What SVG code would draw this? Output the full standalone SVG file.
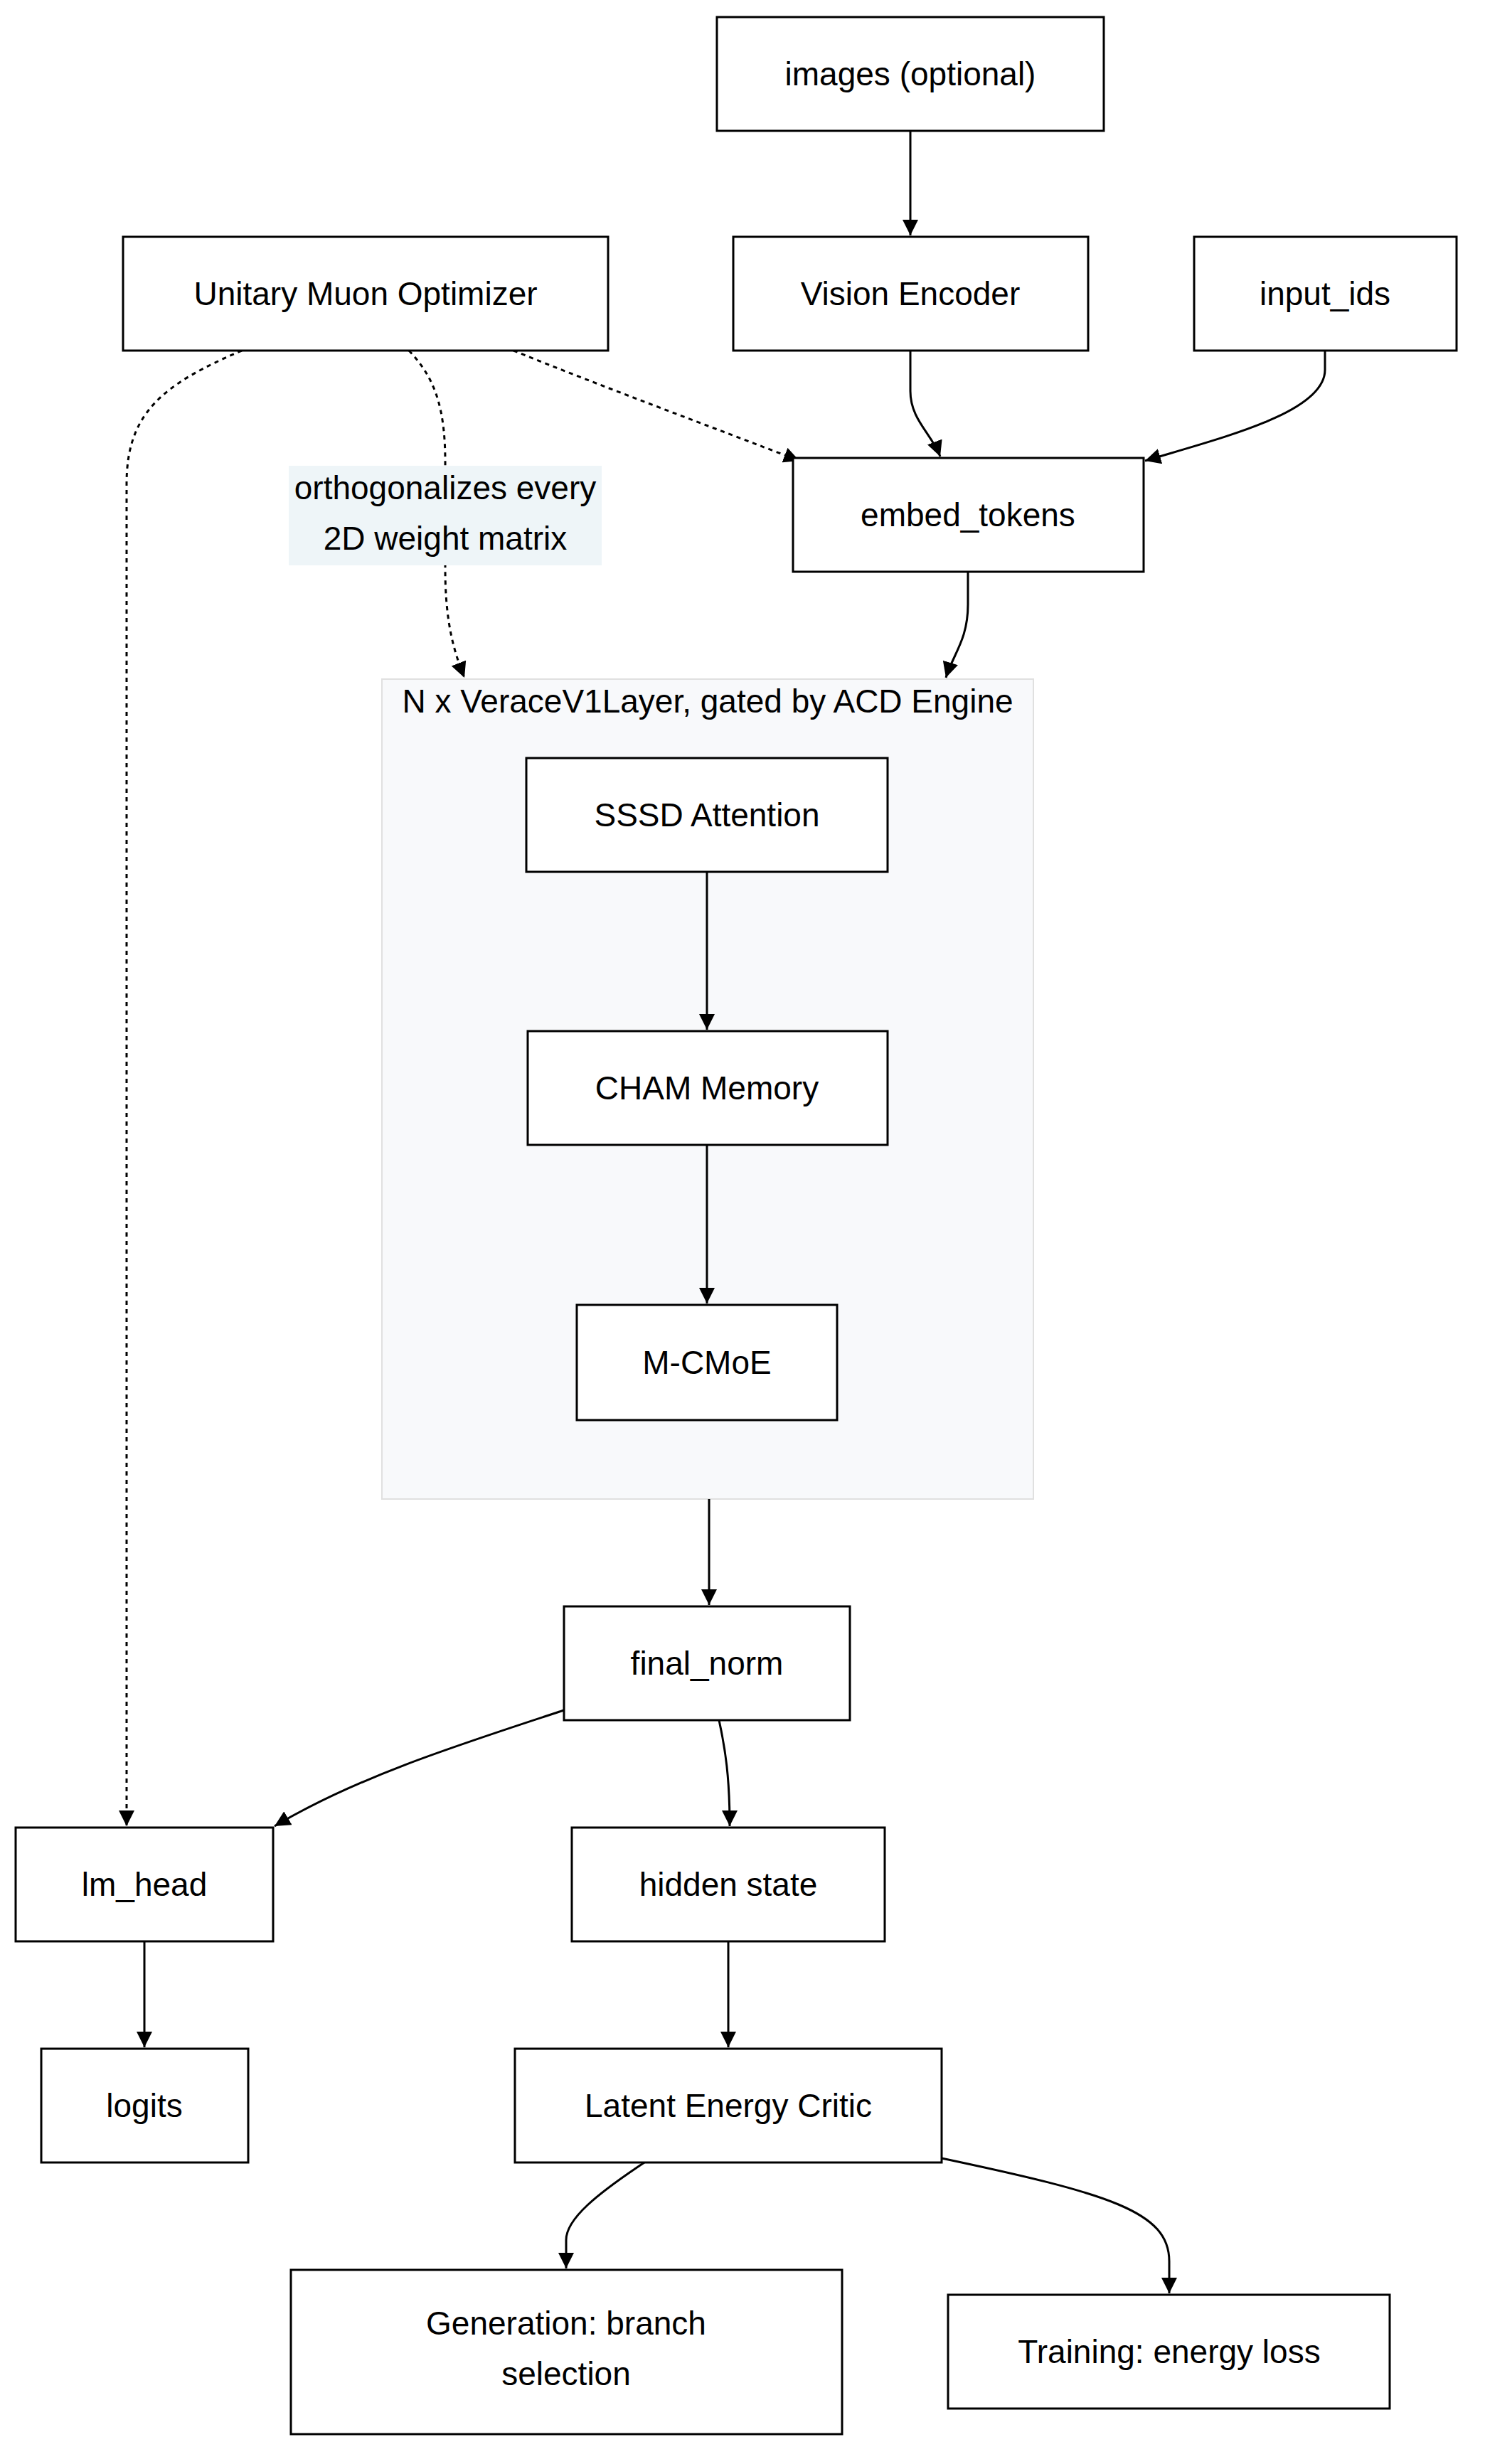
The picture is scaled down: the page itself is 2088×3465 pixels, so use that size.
<svg xmlns="http://www.w3.org/2000/svg" width="2088" height="3465" viewBox="0 0 2088 3465">
<style>
.n rect{fill:#fff;stroke:#000;stroke-width:3}
text{font-family:"Liberation Sans",Arial,sans-serif;font-size:46px;fill:#000;text-anchor:middle;dominant-baseline:central}
.e{fill:none;stroke:#000;stroke-width:3}
.d{stroke-dasharray:6 6}
</style>
<defs>
<marker id="a" viewBox="0 0 10 10" refX="10" refY="5" markerWidth="22" markerHeight="22" markerUnits="userSpaceOnUse" orient="auto"><path d="M0,0L10,5L0,10z" fill="#000"/></marker>
</defs>
<rect width="2088" height="3465" fill="#fff"/>
<g id="cluster"><rect x="537" y="955" width="916" height="1153" fill="#f8f9fb" stroke="#e0e0e0" stroke-width="2"/><text x="995" y="986">N x VeraceV1Layer, gated by ACD Engine</text></g>
<g id="edges">
<path class="e" d="M1280,184V331" marker-end="url(#a)"/>
<path class="e" d="M1280,493V550C1280,590 1310,610 1322,642" marker-end="url(#a)"/>
<path class="e" d="M1863,493V520C1863,580 1720,615 1610,648" marker-end="url(#a)"/>
<path class="e d" d="M722,493C850,545 1000,600 1124,648" marker-end="url(#a)"/>
<path class="e d" d="M575,493C610,530 626,570 626,650V800C626,880 640,920 653,953" marker-end="url(#a)"/>
<path class="e d" d="M340,493C230,540 178,580 178,680V2568" marker-end="url(#a)"/>
<path class="e" d="M1361,804V850C1361,900 1340,920 1330,953" marker-end="url(#a)"/>
<path class="e" d="M994,1226V1448" marker-end="url(#a)"/>
<path class="e" d="M994,1610V1833" marker-end="url(#a)"/>
<path class="e" d="M997,2108V2257" marker-end="url(#a)"/>
<path class="e" d="M793,2405C640,2455 500,2500 386,2568" marker-end="url(#a)"/>
<path class="e" d="M1011,2419C1020,2460 1026,2500 1026,2568" marker-end="url(#a)"/>
<path class="e" d="M203,2730V2879" marker-end="url(#a)"/>
<path class="e" d="M1024,2730V2879" marker-end="url(#a)"/>
<path class="e" d="M906,3041C840,3085 796,3120 796,3150V3190" marker-end="url(#a)"/>
<path class="e" d="M1324,3035C1560,3085 1644,3110 1644,3180V3225" marker-end="url(#a)"/>
</g>
<g id="edgelabel"><rect x="406" y="655" width="440" height="140" fill="#eef5f8"/><text x="626" y="686">orthogonalizes every</text><text x="626" y="757">2D weight matrix</text></g>
<g id="images" class="n"><rect x="1008" y="24" width="544" height="160"/><text x="1280" y="104">images (optional)</text></g>
<g id="muon" class="n"><rect x="173" y="333" width="682" height="160"/><text x="514" y="413">Unitary Muon Optimizer</text></g>
<g id="vision" class="n"><rect x="1031" y="333" width="499" height="160"/><text x="1280" y="413">Vision Encoder</text></g>
<g id="input_ids" class="n"><rect x="1679" y="333" width="369" height="160"/><text x="1863" y="413">input_ids</text></g>
<g id="embed" class="n"><rect x="1115" y="644" width="493" height="160"/><text x="1361" y="724">embed_tokens</text></g>
<g id="sssd" class="n"><rect x="740" y="1066" width="508" height="160"/><text x="994" y="1146">SSSD Attention</text></g>
<g id="cham" class="n"><rect x="742" y="1450" width="506" height="160"/><text x="994" y="1530">CHAM Memory</text></g>
<g id="mcmoe" class="n"><rect x="811" y="1835" width="366" height="162"/><text x="994" y="1916">M-CMoE</text></g>
<g id="final_norm" class="n"><rect x="793" y="2259" width="402" height="160"/><text x="994" y="2339">final_norm</text></g>
<g id="lm_head" class="n"><rect x="22" y="2570" width="362" height="160"/><text x="203" y="2650">lm_head</text></g>
<g id="hidden" class="n"><rect x="804" y="2570" width="440" height="160"/><text x="1024" y="2650">hidden state</text></g>
<g id="logits" class="n"><rect x="58" y="2881" width="291" height="160"/><text x="203" y="2961">logits</text></g>
<g id="lec" class="n"><rect x="724" y="2881" width="600" height="160"/><text x="1024" y="2961">Latent Energy Critic</text></g>
<g id="gen" class="n"><rect x="409" y="3192" width="775" height="231"/><text x="796" y="3267">Generation: branch</text><text x="796" y="3338">selection</text></g>
<g id="train" class="n"><rect x="1333" y="3227" width="621" height="160"/><text x="1644" y="3307">Training: energy loss</text></g>
</svg>
